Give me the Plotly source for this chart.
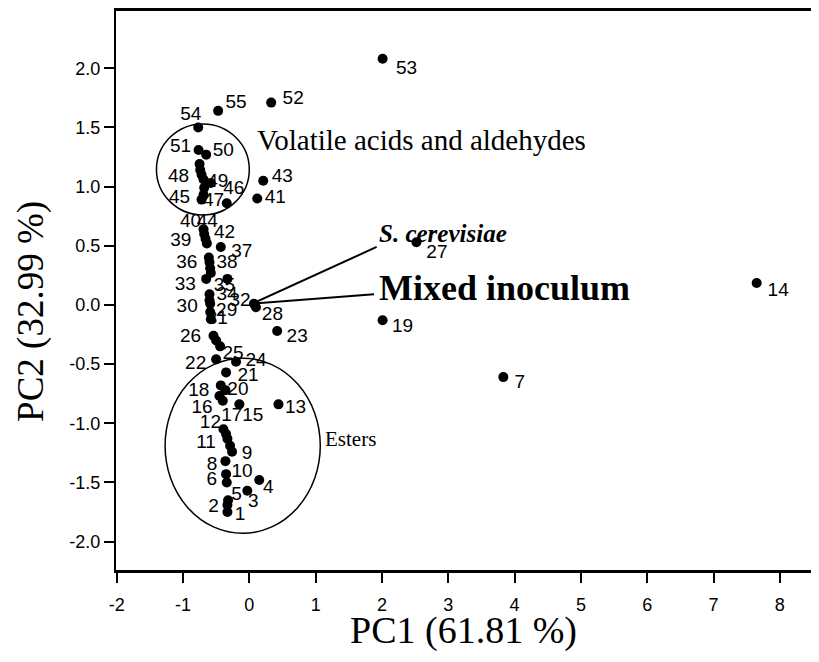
import plotly.graph_objects as go

# ---- data ----
labels = [str(i) for i in range(1, 56)]
pc1 = [-0.33, -0.33, -0.03, 0.15, -0.32, -0.34, 3.83, -0.36, -0.26, -0.35,
       -0.29, -0.39, 0.44, 7.65, -0.15, -0.45, -0.40, -0.43, 2.01, -0.36,
       -0.35, -0.50, 0.42, -0.20, -0.44, -0.54, 2.52, 0.10, -0.59, -0.59,
       -0.58, 0.07, -0.65, -0.60, -0.33, -0.61, -0.43, -0.60, -0.64, -0.69,
       0.12, -0.66, 0.21, -0.68, -0.72, -0.34, -0.69, -0.72, -0.58, -0.65,
       -0.765, 0.33, 2.01, -0.77, -0.47]
pc2 = [-1.75, -1.69, -1.57, -1.48, -1.65, -1.50, -0.61, -1.32, -1.24, -1.43,
       -1.19, -1.05, -0.84, 0.185, -0.84, -0.77, -0.81, -0.68, -0.13, -0.72,
       -0.57, -0.46, -0.22, -0.48, -0.35, -0.26, 0.53, -0.02, -0.06, 0.01,
       -0.12, 0.01, 0.22, 0.09, 0.22, 0.40, 0.49, 0.36, 0.52, 0.64,
       0.90, 0.56, 1.05, 0.60, 0.89, 0.86, 0.93, 1.10, 1.03, 1.27,
       1.31, 1.71, 2.08, 1.50, 1.64]
# unlabeled dots visible in the dense chains
extra_pc1 = [-0.75, -0.74, -0.69, -0.68, -0.59, -0.58, -0.60, -0.50, -0.35, -0.33]
extra_pc2 = [1.19, 1.14, 1.06, 0.99, 0.31, 0.27, 0.04, -0.30, -1.09, -1.13]

x_ticks = [-2, -1, 0, 1, 2, 3, 4, 5, 6, 7, 8]
y_ticks = [-2.0, -1.5, -1.0, -0.5, 0.0, 0.5, 1.0, 1.5, 2.0]

# group ellipses (data units) and pointer lines
ellipse_volatile = [-1.40, 0.00, 0.76, 1.53]
ellipse_esters = [-1.27, 1.07, -1.93, -0.45]
pointer_origin = [0.04, 0.01]
pointer_scer = [1.92, 0.49]
pointer_mixed = [1.88, 0.09]

# ---- layout constants (page body has an 8px default margin) ----
W, H = 811, 654
ML, MR, MT, MB = 108, 0, 1, 92
XR = [-2.01, 8.59]
YR = [-2.24, 2.484]
px_x = (W - ML - MR) / (XR[1] - XR[0])
px_y = (H - MT - MB) / (YR[1] - YR[0])
plot_w = W - ML - MR
plot_h = H - MT - MB

# label offsets from their dot, in pixels (dx right, dy down)
default_off = (20, 7)
label_off = {
    "53": (24, 10), "52": (22, -3), "55": (18, -8), "54": (-7.5, -12.5),
    "51": (-18, -3), "50": (17, -3), "48": (-23, 2), "49": (7, -1),
    "45": (-22, -1), "47": (10, 6), "46": (7, -14), "43": (19, -3),
    "41": (18, 0), "40": (-13, -7), "44": (3, -12), "39": (-26, -2),
    "42": (19, -5), "37": (21, 5), "36": (-22, 6), "38": (17.5, 1),
    "33": (-21, 6), "35": (-3, 7), "34": (17.5, 1), "32": (-14, -3),
    "28": (16.5, 8), "30": (-23, 3.5), "29": (16.5, -1), "31": (6.5, 0.5),
    "26": (-23, 1.5), "25": (13, 7.5), "22": (-20.5, 5), "24": (20, 0),
    "21": (22, 4), "18": (-22, 5.5), "20": (12.5, 0.5), "16": (-17.5, 12.5),
    "17": (9, 15.5), "15": (13.5, 12), "13": (17, 3.5), "12": (-13, -6),
    "11": (-24, -2.5), "9": (15, 3), "8": (-13.5, 4), "10": (16, -2),
    "6": (-15, -2), "4": (9, 8), "3": (6, 12), "5": (8.5, -4.5),
    "2": (-14, 2.5), "1": (12.5, 3), "27": (20.5, 11.5), "14": (21.5, 8.5),
    "19": (20, 6.5), "7": (16.5, 6.5), "23": (20, 6.5),
}
lx = [x + label_off.get(l, default_off)[0] / px_x for x, l in zip(pc1, labels)]
ly = [y - label_off.get(l, default_off)[1] / px_y for y, l in zip(pc2, labels)]

SANS = "Liberation Sans, Arial, sans-serif"
SERIF = "Liberation Serif, Times New Roman, serif"

fig = go.Figure()
fig.add_trace(go.Scatter(x=lx, y=ly, mode="text", text=labels,
                         textposition="middle center",
                         textfont=dict(family=SANS, size=19, color="black"),
                         cliponaxis=False, hoverinfo="skip", showlegend=False))
fig.add_trace(go.Scatter(x=pc1 + extra_pc1, y=pc2 + extra_pc2, mode="markers",
                         marker=dict(size=10, color="black"),
                         cliponaxis=False, showlegend=False))

shapes = [
    dict(type="circle", xref="x", yref="y",
         x0=ellipse_volatile[0], x1=ellipse_volatile[1],
         y0=ellipse_volatile[2], y1=ellipse_volatile[3],
         line=dict(color="black", width=1.5)),
    dict(type="circle", xref="x", yref="y",
         x0=ellipse_esters[0], x1=ellipse_esters[1],
         y0=ellipse_esters[2], y1=ellipse_esters[3],
         line=dict(color="black", width=1.5)),
    dict(type="line", xref="x", yref="y",
         x0=pointer_origin[0], y0=pointer_origin[1],
         x1=pointer_scer[0], y1=pointer_scer[1],
         line=dict(color="black", width=2)),
    dict(type="line", xref="x", yref="y",
         x0=pointer_origin[0], y0=pointer_origin[1],
         x1=pointer_mixed[0], y1=pointer_mixed[1],
         line=dict(color="black", width=2)),
]

annotations = [
    dict(x=0.09, y=1.395, xref="x", yref="y", text="Volatile acids and aldehydes",
         showarrow=False, xanchor="left", yanchor="middle",
         font=dict(family=SERIF, size=29, color="black")),
    dict(x=1.11, y=-1.13, xref="x", yref="y", text="Esters",
         showarrow=False, xanchor="left", yanchor="middle",
         font=dict(family=SERIF, size=21, color="black")),
    dict(x=1.92, y=0.60, xref="x", yref="y", text="<b><i>S. cerevisiae</i></b>",
         showarrow=False, xanchor="left", yanchor="middle",
         font=dict(family=SERIF, size=25, color="black")),
    dict(x=1.93, y=0.14, xref="x", yref="y", text="<b>Mixed inoculum</b>",
         showarrow=False, xanchor="left", yanchor="middle",
         font=dict(family=SERIF, size=36, color="black")),
    dict(x=(463 - 116) / plot_w, y=-(631 - 570) / plot_h, xref="paper", yref="paper",
         text="PC1 (61.81 %)",
         showarrow=False, xanchor="center", yanchor="middle",
         font=dict(family=SERIF, size=38, color="black")),
    dict(x=(31 - 116) / plot_w, y=(570 - 311) / plot_h, xref="paper", yref="paper",
         text="PC2 (32.99 %)",
         showarrow=False, xanchor="center", yanchor="middle", textangle=-90,
         font=dict(family=SERIF, size=37, color="black")),
]

fig.update_layout(
    width=W, height=H,
    margin=dict(l=ML, r=MR, t=MT, b=MB),
    paper_bgcolor="white", plot_bgcolor="white",
    shapes=shapes, annotations=annotations,
    showlegend=False,
)
fig.update_xaxes(range=XR, tickvals=x_ticks, ticktext=[str(v) for v in x_ticks],
                 showgrid=False, zeroline=False, showline=True, linecolor="black",
                 linewidth=2.5, mirror=True, ticks="outside", ticklen=10, tickwidth=2,
                 tickcolor="black", ticklabelstandoff=7,
                 tickfont=dict(family=SANS, size=18, color="black"))
fig.update_yaxes(range=YR, tickvals=y_ticks, ticktext=[f"{v:.1f}" for v in y_ticks],
                 showgrid=False, zeroline=False, showline=True, linecolor="black",
                 linewidth=2, ticks="outside", ticklen=10, tickwidth=2,
                 tickcolor="black",
                 tickfont=dict(family=SANS, size=18, color="black"))

fig.write_html("out.html")
